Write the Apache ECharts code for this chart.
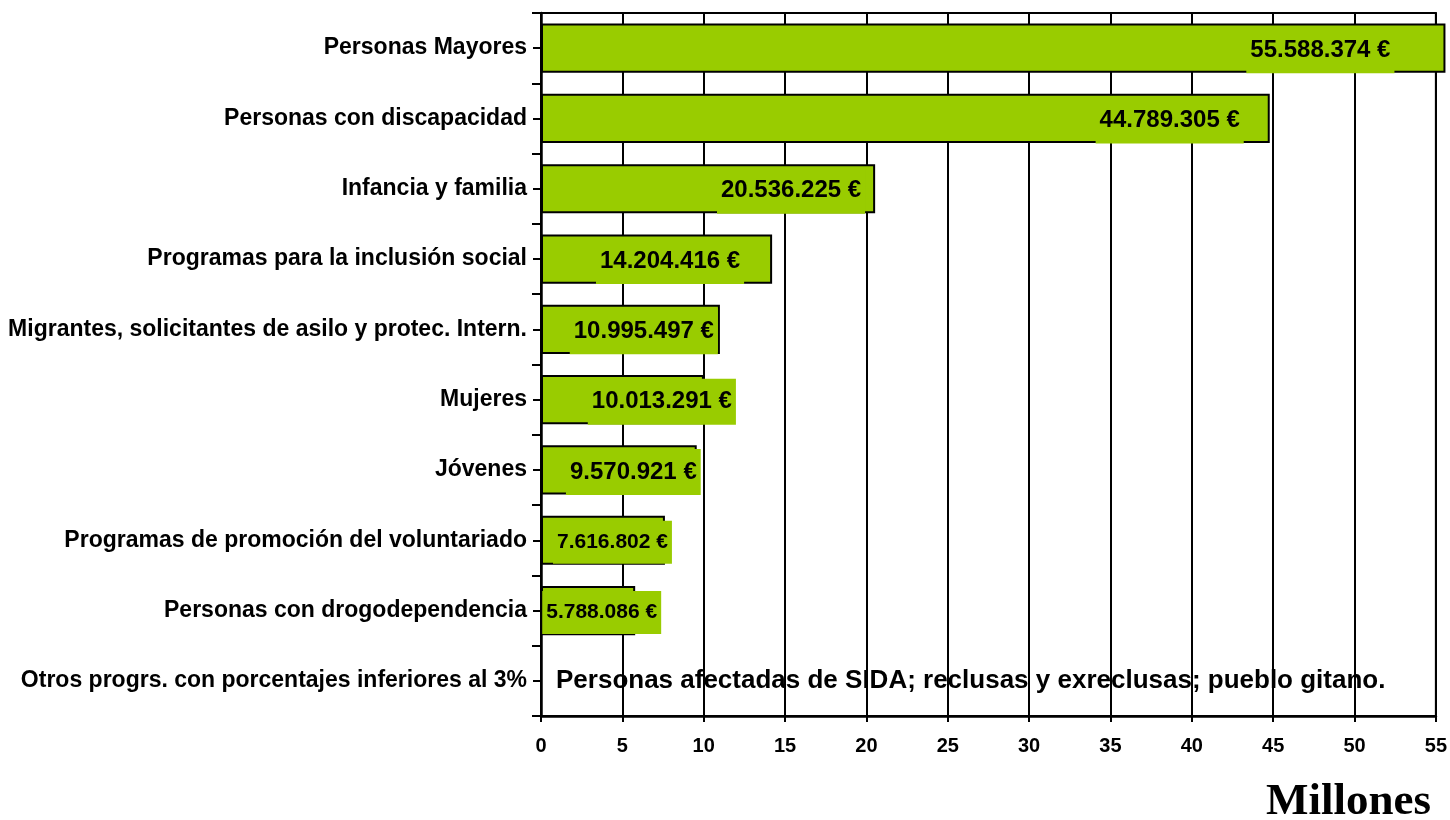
<!DOCTYPE html>
<html>
<head>
<meta charset="utf-8">
<script src="https://cdn.jsdelivr.net/npm/echarts@6/dist/echarts.min.js"></script>
<style>
html,body{margin:0;padding:0;background:#fff;}
#chart{width:1450px;height:820px;}
</style>
</head>
<body>
<div id="chart"></div>
<script>
// ---- Data ----
const categories = [
  'Personas Mayores',
  'Personas con discapacidad',
  'Infancia y familia',
  'Programas para la inclusión social',
  'Migrantes, solicitantes de asilo y protec. Intern.',
  'Mujeres',
  'Jóvenes',
  'Programas de promoción del voluntariado',
  'Personas con drogodependencia',
  'Otros progrs. con porcentajes inferiores al 3%'
];
const valuesMillions = [55.588374, 44.789305, 20.536225, 14.204416, 10.995497, 10.013291, 9.570921, 7.616802, 5.788086, 0];
const valueLabels = ['55.588.374 €', '44.789.305 €', '20.536.225 €', '14.204.416 €', '10.995.497 €', '10.013.291 €', '9.570.921 €', '7.616.802 €', '5.788.086 €', ''];
const otherNote = 'Personas afectadas de SIDA; reclusas y exreclusas; pueblo gitano.';
const xTicks = [0, 5, 10, 15, 20, 25, 30, 35, 40, 45, 50, 55];
const unitTitle = 'Millones';

// ---- Styling (label nudges, not data) ----
const labelNudge = [-51, -26, -10, -28, -2, 32, 4, 7, 26, 0];
const labelSize  = [24, 24, 24, 24, 24, 24, 24, 21, 21, 24];

const FONT = '"Liberation Sans", Arial, sans-serif';
const GREEN = '#99CC00';

const seriesData = valuesMillions.map((v, i) => {
  if (i === valuesMillions.length - 1) {
    return {
      value: v,
      label: {
        show: true, position: 'right', distance: 14,
        formatter: otherNote,
        fontSize: 26, fontWeight: 'bold', color: '#000', fontFamily: FONT
      }
    };
  }
  return {
    value: v,
    label: {
      show: true, position: 'insideRight', distance: 0,
      offset: [labelNudge[i], 2],
      formatter: valueLabels[i],
      fontSize: labelSize[i], fontWeight: 'bold', color: '#000', fontFamily: FONT,
      backgroundColor: GREEN, padding: [11, 4, 11, 4]
    }
  };
});

const chart = echarts.init(document.getElementById('chart'), null, {renderer: 'canvas'});
chart.setOption({
  animation: false,
  backgroundColor: '#fff',
  grid: {
    left: 541, right: 12, top: 13, bottom: 104,
    show: true, borderColor: '#000', borderWidth: 2, backgroundColor: 'transparent'
  },
  xAxis: {
    type: 'value', min: xTicks[0], max: xTicks[xTicks.length - 1], interval: 5,
    axisLine: {show: true, lineStyle: {color: '#000', width: 2.5}},
    axisTick: {show: true, length: 6, lineStyle: {color: '#000', width: 2}},
    splitLine: {show: true, lineStyle: {color: '#000', width: 2}},
    axisLabel: {fontSize: 20, fontWeight: 'bold', color: '#000', fontFamily: FONT, margin: 20}
  },
  yAxis: [
    {
      type: 'category', data: categories, inverse: true,
      axisLine: {show: true, lineStyle: {color: '#000', width: 2.5}},
      axisTick: {show: true, length: 9, lineStyle: {color: '#000', width: 2}},
      axisLabel: {fontSize: 23, fontWeight: 'bold', color: '#000', fontFamily: FONT, margin: 14},
      splitLine: {show: false}
    },
    {
      type: 'category', data: categories, inverse: true, position: 'left',
      axisLine: {show: false},
      axisTick: {show: true, alignWithLabel: true, length: 8, lineStyle: {color: '#000', width: 2}},
      axisLabel: {show: false},
      splitLine: {show: false}
    }
  ],
  series: [{
    type: 'bar',
    yAxisIndex: 0,
    data: seriesData,
    barCategoryGap: '30%',
    clip: false,
    itemStyle: {color: GREEN, borderColor: '#000', borderWidth: 2}
  }],
  graphic: [{
    type: 'text', x: 1431, y: 802,
    style: {
      text: unitTitle, font: 'bold 45px "Liberation Serif", "Times New Roman", serif', fill: '#000',
      textAlign: 'right', textVerticalAlign: 'middle'
    }
  }]
});
</script>
</body>
</html>
